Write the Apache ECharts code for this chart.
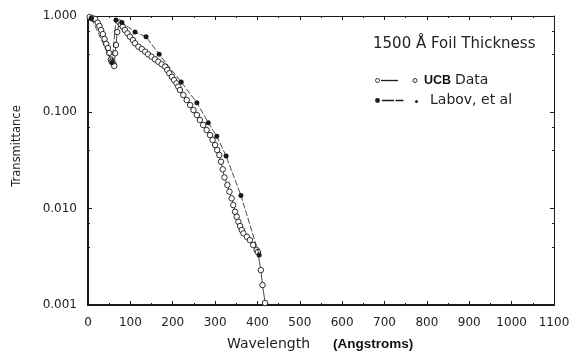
<!DOCTYPE html>
<html>
<head>
<meta charset="utf-8">
<script src="https://cdn.jsdelivr.net/npm/echarts@6/dist/echarts.min.js"></script>
<style>
  html, body { margin: 0; padding: 0; background: #fff; }
  #chart { width: 576px; height: 361px; }
</style>
</head>
<body>
<div id="chart"></div>
<script>
// UCB measurements: wavelength (Angstroms) and transmittance
const ucbWavelength = [4, 9, 13, 17, 23, 27, 31, 35, 39, 43, 47, 50, 54, 56, 60, 62,
  64, 66, 69, 74, 78, 82, 87, 93, 99, 106, 111, 119, 127, 135, 142, 150, 158, 166,
  174, 182, 187, 192, 198, 203, 209, 213, 217, 225, 233, 241, 249, 257, 264, 272,
  280, 288, 294, 300, 305, 310, 314, 318, 322, 329, 334, 339, 343, 347, 351, 355,
  359, 363, 367, 375, 382, 390, 398, 401, 408, 412, 418];
const ucbTransmittance = [0.976, 0.946, 0.94, 0.93, 0.852, 0.787, 0.716, 0.650, 0.577,
  0.512, 0.465, 0.413, 0.353, 0.335, 0.321, 0.303,
  0.410, 0.500, 0.682, 0.856, 0.82, 0.774, 0.716, 0.661, 0.610, 0.563, 0.521, 0.480,
  0.454, 0.426, 0.400, 0.378, 0.355, 0.335, 0.315, 0.298, 0.275, 0.254, 0.234, 0.2165,
  0.200, 0.185, 0.1705, 0.151, 0.134, 0.119, 0.1056, 0.0938, 0.0832, 0.0738, 0.0655,
  0.0581, 0.0516, 0.0458, 0.0406, 0.0360, 0.0307, 0.0256, 0.0211, 0.0176, 0.0150,
  0.0128, 0.0109, 0.00929, 0.00824, 0.00731, 0.0066, 0.0060, 0.00554, 0.0051,
  0.00472, 0.00419, 0.00372, 0.00354, 0.0023, 0.00161, 0.00105];

// Labov, et al: wavelength (Angstroms) and transmittance
const labovWavelength = [8, 57, 66, 80, 111, 137, 168, 220, 257, 284, 304, 326, 361, 404];
const labovTransmittance = [0.95, 0.33, 0.91, 0.856, 0.682, 0.610, 0.400, 0.206, 0.126,
  0.078, 0.0563, 0.0352, 0.0137, 0.0033];

// Axis ticks
const xMin = 0, xMax = 1100, xStep = 100;
const yMin = 0.001, yMax = 1;

const pair = (xs, ys) => xs.map((x, i) => [x, ys[i]]);

const FONT = 'DejaVu Sans';
const INK = '#1a1a1a';

const chart = echarts.init(document.getElementById('chart'), null, { renderer: 'canvas' });

const xBase = {
  type: 'value', min: xMin, max: xMax, interval: xStep,
  splitLine: { show: false },
  axisTick: { show: true, inside: true, length: 4, lineStyle: { color: INK, width: 1 } },
  minorTick: { show: true, splitNumber: 2, length: 2, lineStyle: { color: INK, width: 1 } },
  minorSplitLine: { show: false }
};
const yBase = {
  type: 'log', logBase: 10, min: yMin, max: yMax,
  splitLine: { show: false },
  axisTick: { show: true, inside: true, length: 4, lineStyle: { color: INK, width: 1 } },
  minorTick: { show: true, splitNumber: 3, length: 2, lineStyle: { color: INK, width: 1 } },
  minorSplitLine: { show: false }
};

chart.setOption({
  animation: false,
  backgroundColor: '#ffffff',
  grid: { left: 88, right: 22, top: 16, bottom: 56, containLabel: false },
  xAxis: [
    Object.assign({}, xBase, {
      position: 'bottom',
      axisLine: { show: true, onZero: false, lineStyle: { color: INK, width: 2 } },
      axisLabel: { color: '#222', fontFamily: FONT, fontSize: 12, margin: 12,
        formatter: v => String(v) }
    }),
    Object.assign({}, xBase, {
      position: 'top',
      axisLine: { show: true, onZero: false, lineStyle: { color: INK, width: 1 } },
      axisLabel: { show: false }
    })
  ],
  yAxis: [
    Object.assign({}, yBase, {
      position: 'left',
      axisLine: { show: true, onZero: false, lineStyle: { color: INK, width: 2 } },
      axisLabel: {
        color: '#222', fontFamily: FONT, fontSize: 12, margin: 11,
        formatter: v => Number(v).toFixed(3)
      }
    }),
    Object.assign({}, yBase, {
      position: 'right',
      axisLine: { show: true, onZero: false, lineStyle: { color: INK, width: 1 } },
      axisLabel: { show: false }
    })
  ],
  series: [
    {
      name: 'UCB Data',
      type: 'line',
      xAxisIndex: 0, yAxisIndex: 0,
      data: pair(ucbWavelength, ucbTransmittance),
      symbol: 'circle', symbolSize: 5.5,
      itemStyle: { color: '#fff', borderColor: INK, borderWidth: 0.9 },
      lineStyle: { color: INK, width: 0.8 },
      z: 2
    },
    {
      name: 'Labov, et al',
      type: 'line',
      xAxisIndex: 0, yAxisIndex: 0,
      data: pair(labovWavelength, labovTransmittance),
      symbol: 'circle', symbolSize: 5,
      itemStyle: { color: INK, borderColor: INK, borderWidth: 0 },
      lineStyle: { color: INK, width: 0.8, type: [6, 2] },
      z: 3
    }
  ],
  graphic: [
    // Axis titles
    {
      type: 'text', x: 17, y: 146, rotation: Math.PI / 2,
      style: { text: 'Transmittance', fill: '#222', font: '11.5px "DejaVu Sans"',
        textAlign: 'center', textVerticalAlign: 'middle' }
    },
    {
      type: 'text', x: 227, y: 344,
      style: { text: 'Wavelength', fill: '#222', font: '14px "DejaVu Sans"',
        textAlign: 'left', textVerticalAlign: 'middle' }
    },
    {
      type: 'text', x: 333, y: 344,
      style: { text: '(Angstroms)', fill: '#111', font: 'bold 13.5px "Liberation Sans"',
        textAlign: 'left', textVerticalAlign: 'middle' }
    },
    // Key
    {
      type: 'text', x: 373, y: 44,
      style: { text: '1500 Å Foil Thickness', fill: '#222', font: '15px "DejaVu Sans"',
        textAlign: 'left', textVerticalAlign: 'middle' }
    },
    { type: 'circle', shape: { cx: 377.5, cy: 80.5, r: 2 },
      style: { fill: '#fff', stroke: INK, lineWidth: 0.9 } },
    { type: 'line', shape: { x1: 381, y1: 80.5, x2: 398, y2: 80.5 },
      style: { stroke: INK, lineWidth: 1.3 } },
    { type: 'circle', shape: { cx: 415, cy: 80.5, r: 2 },
      style: { fill: '#fff', stroke: INK, lineWidth: 0.9 } },
    {
      type: 'text', x: 424, y: 80.5,
      style: { text: 'UCB', fill: '#111', font: 'bold 12.5px "Liberation Sans"',
        textAlign: 'left', textVerticalAlign: 'middle' }
    },
    {
      type: 'text', x: 455, y: 80.5,
      style: { text: 'Data', fill: '#222', font: '14px "DejaVu Sans"',
        textAlign: 'left', textVerticalAlign: 'middle' }
    },
    { type: 'circle', shape: { cx: 377.5, cy: 100.5, r: 2.4 },
      style: { fill: INK, stroke: INK, lineWidth: 0 } },
    { type: 'line', shape: { x1: 382, y1: 100.5, x2: 405, y2: 100.5 },
      style: { stroke: INK, lineWidth: 1.3, lineDash: [12, 1.5, 8, 1.5] } },
    { type: 'circle', shape: { cx: 416.5, cy: 101.5, r: 1.5 },
      style: { fill: INK, stroke: INK, lineWidth: 0 } },
    {
      type: 'text', x: 430, y: 100.5,
      style: { text: 'Labov, et al', fill: '#222', font: '14px "DejaVu Sans"',
        textAlign: 'left', textVerticalAlign: 'middle' }
    }
  ]
});
</script>
</body>
</html>
